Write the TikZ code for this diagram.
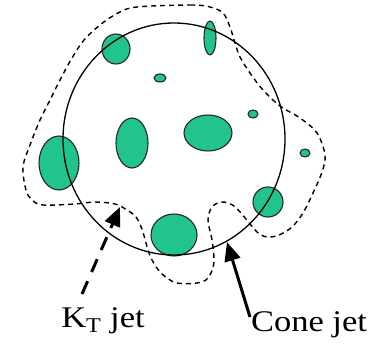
\documentclass[tikz,border=0pt]{standalone}
\usepackage{fontspec}
\setmainfont{Liberation Serif}
\usetikzlibrary{arrows.meta}
\definecolor{blobgreen}{RGB}{32,196,140}
\tikzset{
  blob/.style={fill=blobgreen, draw=black!85, line width=1.1pt},
  conejet/.style={draw=black, line width=1.3pt},
  ktjet/.style={draw=black, line width=1.4pt, dash pattern=on 5pt off 4pt},
  bigarrow/.style={line width=3pt, -{Triangle[length=19pt,width=16pt]}},
  lbl/.style={font=\fontsize{30}{34}\selectfont, xscale=1.15, anchor=base, inner sep=0pt}
}
\begin{document}
\begin{tikzpicture}[x=1pt,y=-1pt]
\useasboundingbox (0,0) rectangle (383,345);
% particles / calorimeter deposits
\path[blob] (116,49) ellipse [x radius=14, y radius=15];
\path[blob] (210,38) ellipse [x radius=6, y radius=17];
\path[blob] (160,78) ellipse [x radius=6, y radius=4];
\path[blob] (253,114) ellipse [x radius=5, y radius=4];
\path[blob] (305,153) ellipse [x radius=5, y radius=4];
\path[blob] (132,143) ellipse [x radius=16, y radius=25];
\path[blob] (208,133) ellipse [x radius=24, y radius=18];
\path[blob] (59,163) ellipse [x radius=20, y radius=27];
\path[blob] (268,202) ellipse [x radius=15, y radius=15];
\path[blob] (174,235) ellipse [x radius=23, y radius=21];
% cone jet (solid circle)
\coordinate (c) at (174,139);
\path[conejet] (c) ellipse [x radius=111, y radius=116];
% kT jet (dashed region)
\draw[ktjet] plot[smooth cycle, tension=0.55] coordinates {
 (137,7) (190,5) (210,7) (223,13) (230,27) (235,43) (240,57) (250,73) (263,90)
 (280,106) (300,118) (317,133) (325,155) (322,172) (313,193) (303,213) (292,227)
 (279,235) (267,237) (257,232) (246,219) (234,206) (222,202) (212,207) (208,220)
 (212,240) (214,260) (211,273) (202,282) (177,283) (161,273) (151,258) (146,243)
 (142,229) (136,217) (127,210) (115,204) (95,202) (75,204) (43,205) (32,200)
 (26,190) (23,167) (30,145) (40,120) (50,100) (60,80) (72,58) (84,40) (100,25) (118,13)};
% labels
\node[lbl] (kt) at (103,327) {K\textsubscript{T} jet};
\node[lbl] (cone) at (309,331) {Cone jet};
\coordinate (kttip) at (120,207);
\coordinate (ktfoot) at (82,294);
\coordinate (conetip) at (227,242);
\coordinate (conefoot) at (250,317);
\draw[bigarrow, dash pattern=on 14pt off 10pt] (ktfoot) -- (kttip);
\draw[bigarrow] (conefoot) -- (conetip);
\end{tikzpicture}
\end{document}
